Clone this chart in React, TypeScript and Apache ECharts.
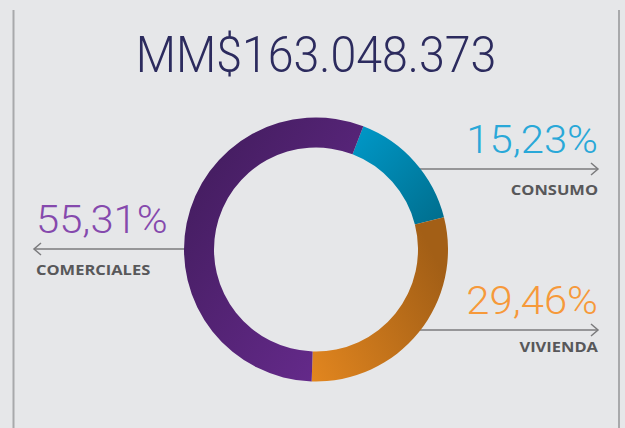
import React, { useEffect, useRef } from "react";
import * as echarts from "echarts";

const title = "MM$163.048.373";
const categories = ["CONSUMO", "VIVIENDA", "COMERCIALES"];
const values = [15.23, 29.46, 55.31];
const percentLabels = ["15,23%", "29,46%", "55,31%"];
const percentColors = ["#29a8d8", "#f6993a", "#8549ad"];
const gradients: [string, string][] = [
  ["#0099c9", "#006d8c"],
  ["#e2861f", "#a35f16"],
  ["#3f1b59", "#6a2c92"],
];
const gradDirs = [
  [0, 0, 1, 1],
  [0, 1, 1, 0.4],
  [0, 0, 1, 1],
];

export default function App() {
  const ref = useRef<HTMLDivElement>(null);
  useEffect(() => {
    if (!ref.current) return;
    const chart = echarts.init(ref.current, null, { renderer: "svg" });
    const cx = 316;
    const cy = 249.5;
    const rOut = 132;
    const rIn = 102;
    const lineColor = "#7b7b7d";
    const labelColor = "#58585a";
    const thin = "Roboto, 'Liberation Sans', sans-serif";
    const bold = "'Open Sans', 'DejaVu Sans', sans-serif";

    const layout: Record<string, { side: "left" | "right"; lineY: number; pctY: number; nameY: number }> = {
      CONSUMO: { side: "right", lineY: 169, pctY: 140.5, nameY: 189.5 },
      VIVIENDA: { side: "right", lineY: 330, pctY: 301.5, nameY: 346.5 },
      COMERCIALES: { side: "left", lineY: 249, pctY: 220.5, nameY: 269 },
    };
    const rightX = 598;
    const leftX = 36;
    const pctScale = 1.1;
    const nameScale = 1.1;

    const graphics: any[] = [
      { type: "rect", shape: { x: 12.5, y: 10, width: 2, height: 420 }, style: { fill: "#a8a9ab" } },
      { type: "rect", shape: { x: 618, y: 10, width: 2, height: 420 }, style: { fill: "#a8a9ab" } },
      {
        type: "text",
        x: 316,
        y: 54.5,
        scaleX: 0.93,
        style: {
          text: title,
          fontFamily: thin,
          fontWeight: 300,
          fontSize: 50,
          fill: "#2c2b5e",
          align: "center",
          verticalAlign: "middle",
        },
      },
    ];

    categories.forEach((name, i) => {
      const l = layout[name];
      const dy = l.lineY - cy;
      const edge = Math.sqrt(rOut * rOut - dy * dy);
      if (l.side === "right") {
        const x0 = cx + edge - 1;
        graphics.push(
          { type: "line", shape: { x1: x0, y1: l.lineY, x2: rightX, y2: l.lineY }, style: { stroke: lineColor, lineWidth: 1.5 } },
          { type: "polyline", shape: { points: [[rightX - 7, l.lineY - 6], [rightX, l.lineY], [rightX - 7, l.lineY + 6]] }, style: { stroke: lineColor, lineWidth: 1.5, fill: null } },
          { type: "text", x: rightX, y: l.pctY, scaleX: pctScale, style: { text: percentLabels[i], fontFamily: thin, fontWeight: 300, fontSize: 38, fill: percentColors[i], align: "right", verticalAlign: "middle" } },
          { type: "text", x: rightX, y: l.nameY, scaleX: nameScale, style: { text: name, fontFamily: bold, fontWeight: 700, fontSize: 15, fill: labelColor, align: "right", verticalAlign: "middle" } }
        );
      } else {
        const x1 = cx - edge + 1;
        graphics.push(
          { type: "line", shape: { x1: leftX - 2, y1: l.lineY, x2: x1, y2: l.lineY }, style: { stroke: lineColor, lineWidth: 1.5 } },
          { type: "polyline", shape: { points: [[leftX + 5, l.lineY - 6], [leftX - 2, l.lineY], [leftX + 5, l.lineY + 6]] }, style: { stroke: lineColor, lineWidth: 1.5, fill: null } },
          { type: "text", x: leftX, y: l.pctY, scaleX: pctScale, style: { text: percentLabels[i], fontFamily: thin, fontWeight: 300, fontSize: 38, fill: percentColors[i], align: "left", verticalAlign: "middle" } },
          { type: "text", x: leftX, y: l.nameY, scaleX: nameScale, style: { text: name, fontFamily: bold, fontWeight: 700, fontSize: 15, fill: labelColor, align: "left", verticalAlign: "middle" } }
        );
      }
    });

    chart.setOption({
      animation: false,
      backgroundColor: "#e6e7e9",
      graphic: graphics,
      series: [
        {
          type: "pie",
          center: [cx, cy],
          radius: [rIn, rOut],
          startAngle: 69,
          clockwise: true,
          label: { show: false },
          labelLine: { show: false },
          silent: true,
          z: 5,
          data: categories.map((name, i) => ({
            name,
            value: values[i],
            itemStyle: {
              color: new echarts.graphic.LinearGradient(gradDirs[i][0], gradDirs[i][1], gradDirs[i][2], gradDirs[i][3], [
                { offset: 0, color: gradients[i][0] },
                { offset: 1, color: gradients[i][1] },
              ]),
              borderWidth: 0,
            },
          })),
        },
      ],
    });
    return () => chart.dispose();
  }, []);
  return <div ref={ref} style={{ position: "fixed", left: 0, top: 0, width: 625, height: 428 }} />;
}
